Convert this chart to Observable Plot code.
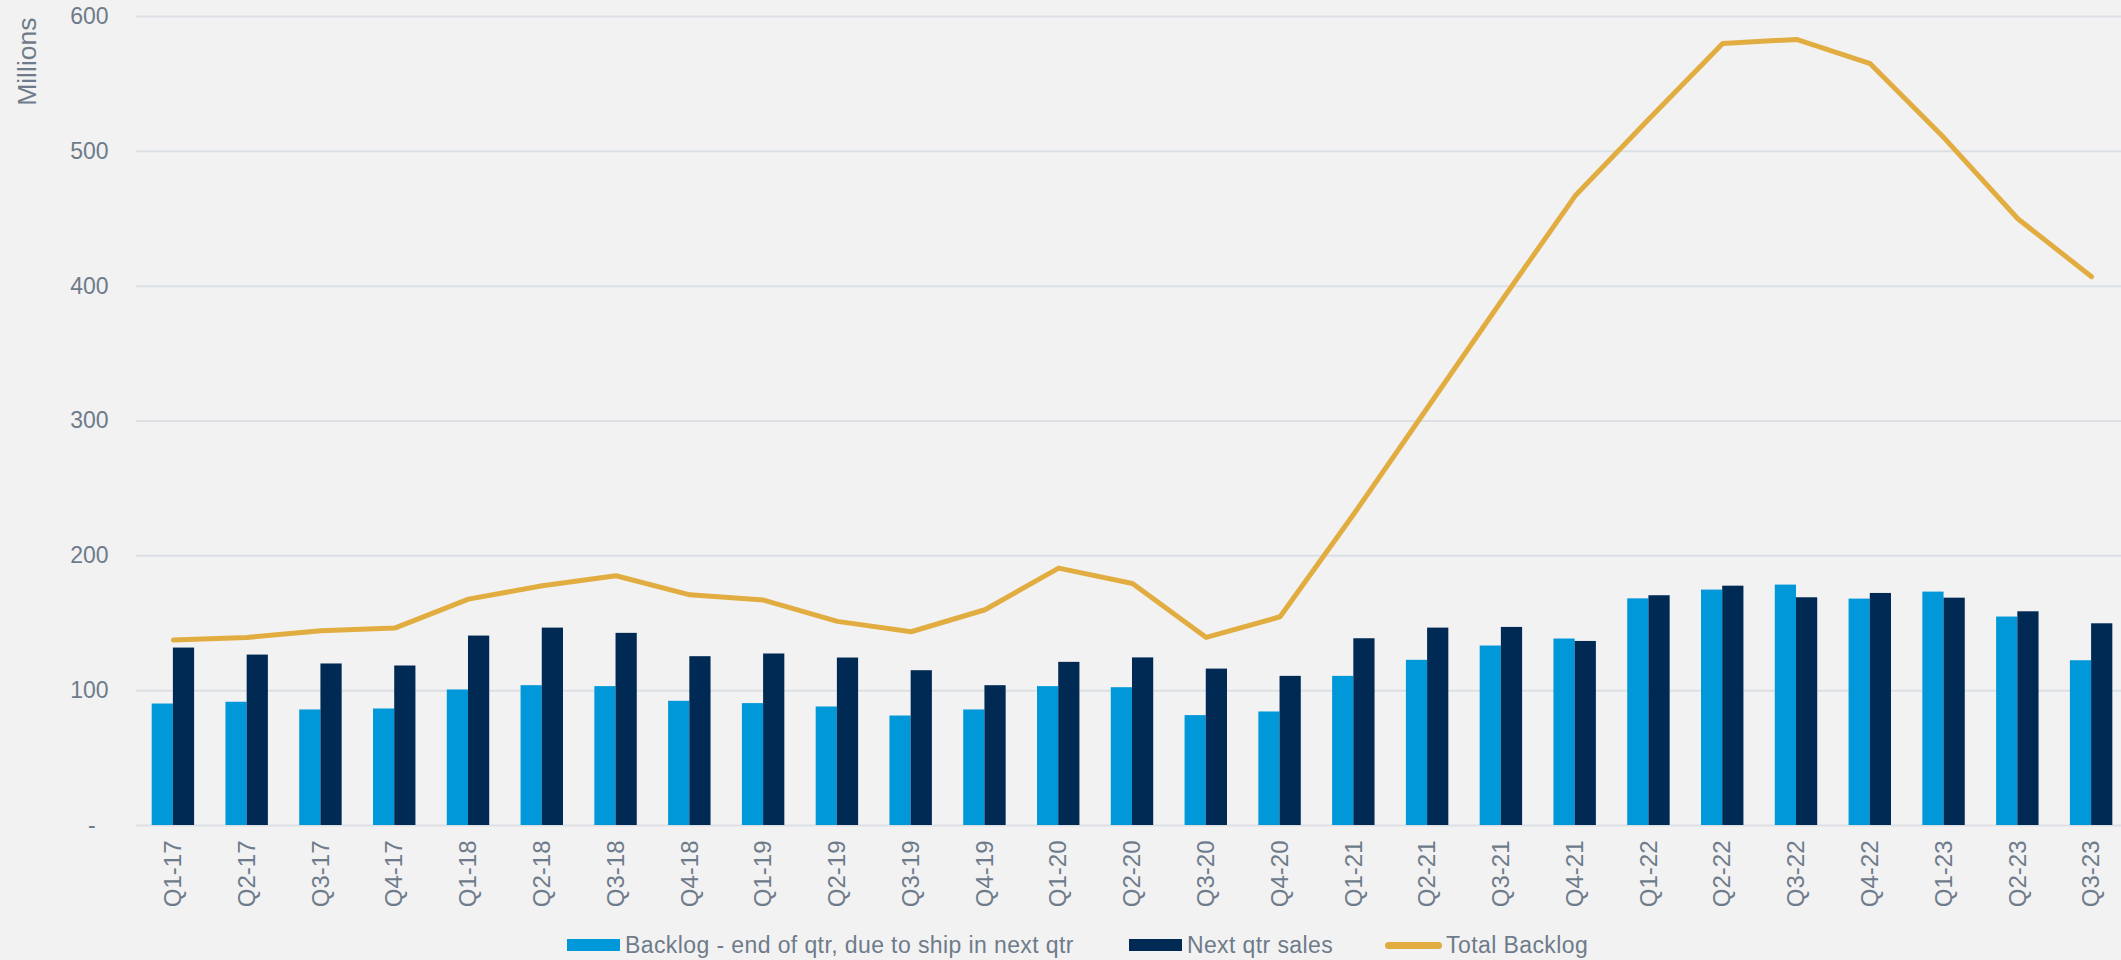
<!DOCTYPE html>
<html>
<head>
<meta charset="utf-8">
<script src="https://cdn.jsdelivr.net/npm/d3@7"></script>
<script src="https://cdn.jsdelivr.net/npm/@observablehq/plot@0.6"></script>
<style>
  html, body { margin: 0; padding: 0; background: #f2f2f2; overflow: hidden; }
  body { width: 2121px; height: 960px; font-family: "Liberation Sans", Arial, sans-serif; }
  #legend { display: flex; align-items: center; height: 50px; padding-left: 567px; color: #6e7b8a; font-size: 23px; letter-spacing: 0.4px; }
  .item { display: flex; align-items: center; }
  .sw { width: 53px; height: 12px; margin-right: 5px; }
  .ln { width: 57px; height: 7px; border-radius: 4px; margin-right: 4px; }
</style>
</head>
<body>
<div id="chart"></div>
<div id="legend"></div>
<script>
const categories = ["Q1-17","Q2-17","Q3-17","Q4-17","Q1-18","Q2-18","Q3-18","Q4-18","Q1-19","Q2-19","Q3-19","Q4-19","Q1-20","Q2-20","Q3-20","Q4-20","Q1-21","Q2-21","Q3-21","Q4-21","Q1-22","Q2-22","Q3-22","Q4-22","Q1-23","Q2-23","Q3-23"];
const backlogNextQtr = [90.1, 91.4, 85.7, 86.4, 100.5, 103.7, 103.0, 92.1, 90.4, 87.9, 81.2, 85.7, 103.0, 102.2, 81.5, 84.2, 110.6, 122.5, 133.1, 138.3, 168.1, 174.6, 178.3, 167.9, 173.1, 154.6, 122.2];
const nextQtrSales = [131.6, 126.4, 119.8, 118.3, 140.5, 146.4, 142.5, 125.2, 127.2, 124.2, 114.8, 103.7, 121.0, 124.3, 116.0, 110.6, 138.5, 146.4, 146.9, 136.5, 170.4, 177.5, 168.9, 172.1, 168.6, 158.5, 149.6];
const totalBacklog = [137.5, 139.5, 144.4, 146.4, 167.9, 177.8, 185.2, 171.1, 167.2, 151.4, 143.7, 160.0, 190.9, 179.5, 139.5, 154.8, 231, 310, 389, 467, 524, 580, 583, 565, 510, 450, 407];
const yTicks = [0, 100, 200, 300, 400, 500, 600];
const seriesNames = ["Backlog - end of qtr, due to ship in next qtr", "Next qtr sales", "Total Backlog"];
const colors = ["#0098d9", "#002a54", "#e2ad40"];

const rows = categories.map((q, i) => ({q, backlog: backlogNextQtr[i], sales: nextQtrSales[i], total: totalBacklog[i]}));

const textColor = "#6e7b8a";
const gridColor = "#dce0e5";

const chart = Plot.plot({
  width: 2121,
  height: 920,
  marginTop: 16,
  marginBottom: 95,
  marginLeft: 136,
  marginRight: 0,
  style: {background: "transparent", color: textColor, fontFamily: "'Liberation Sans', Arial, sans-serif", fontSize: "23px", overflow: "visible"},
  x: {type: "band", domain: categories, range: [136, 2128], round: false, paddingInner: 0.425, paddingOuter: 0.2125, label: null},
  y: {domain: [0, 600], label: null},
  marks: [
    Plot.ruleY(yTicks, {stroke: gridColor, strokeWidth: 2}),
    Plot.barY(rows, {x: "q", y: "backlog", fill: colors[0], insetRight: 21.2}),
    Plot.barY(rows, {x: "q", y: "sales", fill: colors[1], insetLeft: 21.2}),
    Plot.line(rows, {x: "q", y: "total", stroke: colors[2], strokeWidth: 5, strokeLinecap: "round", strokeLinejoin: "round"}),
    Plot.axisY({ticks: yTicks, tickFormat: d => d === 0 ? "-\u00a0\u00a0" : String(d), tickSize: 0, tickPadding: 28, fontSize: 23, label: null}),
    Plot.axisX({tickRotate: -90, tickSize: 0, tickPadding: 15, fontSize: 24, label: null}),
    Plot.text(["Millions"], {text: d => d, frameAnchor: "top-left", lineAnchor: "middle", rotate: -90, textAnchor: "end", dx: -109, dy: 1, fontSize: 26.5, fill: textColor})
  ]
});
document.getElementById("chart").appendChild(chart);

const legend = document.getElementById("legend");
const gaps = [55, 52, 0];
seriesNames.forEach((name, i) => {
  const item = document.createElement("div");
  item.className = "item";
  item.style.marginRight = gaps[i] + "px";
  const sw = document.createElement("div");
  sw.className = i === 2 ? "ln" : "sw";
  sw.style.background = colors[i];
  const label = document.createElement("span");
  label.textContent = name;
  item.appendChild(sw);
  item.appendChild(label);
  legend.appendChild(item);
});
</script>
</body>
</html>
